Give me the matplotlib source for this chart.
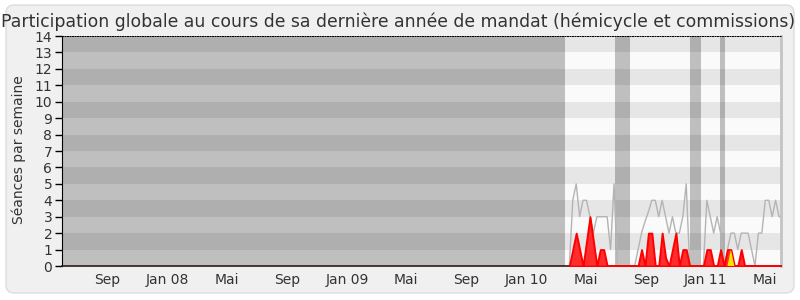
import numpy as np
import matplotlib
matplotlib.use("Agg")
import matplotlib.pyplot as plt
from matplotlib.patches import FancyBboxPatch

# --------------------------------------------------------------------------------
# Données hebdomadaires (une valeur par semaine depuis le début du mandat)
# --------------------------------------------------------------------------------
debut_semaines = np.datetime64("2010-03-29")

# présence médiane des députés
mediane = [0, 4, 5, 3, 4, 4, 3, 2, 3, 3, 3, 3, 1, 5, 0, 0, 0, 0, 0, 0,
           1, 2, 2.7, 3.3, 4, 4, 3, 4, 3, 2, 3, 2, 2, 3, 5, 0, 0, 0, 0, 0,
           4, 3, 2, 3, 2, 0, 1, 2, 2, 1, 2, 2, 2, 1, 0, 2, 2, 4, 4, 3,
           4, 3, 3]

# présences du député (hémicycle + commissions)
presences = [0, 1, 2, 1, 0, 1.5, 3, 1.5, 0, 1, 1, 0, 0, 0, 0, 0, 0, 0, 0, 0,
             0, 1, 0, 2, 2, 0, 0, 2, 0.5, 0, 1, 2, 0, 1, 1, 0, 0, 0, 0, 0,
             1, 1, 0, 0, 1, 0, 1, 1, 0, 0, 1, 0, 0, 0, 0, 0, 0, 0, 0, 0,
             0, 0, 0]

# interventions
interventions = [0] * 46 + [0, 1, 0] + [0] * 14

semaines = debut_semaines + np.arange(len(mediane)) * np.timedelta64(7, "D")

debut_mandat = "2010-03-20"
vacances = [("2010-06-30", "2010-07-30"),
            ("2010-11-29", "2010-12-22"),
            ("2011-01-30", "2011-02-09")]

debut_graphe = "2007-05-31"
fin_graphe = "2011-06-03"

mois_ticks = ["2007-09-01", "2008-01-01", "2008-05-01", "2008-09-01",
              "2009-01-01", "2009-05-01", "2009-09-01", "2010-01-01",
              "2010-05-01", "2010-09-01", "2011-01-01", "2011-05-01"]
mois_labels = ["Sep", "Jan 08", "Mai", "Sep", "Jan 09", "Mai", "Sep",
               "Jan 10", "Mai", "Sep", "Jan 11", "Mai"]

titre = ("Participation globale au cours de sa dernière année de mandat "
         "(hémicycle et commissions)")

# --------------------------------------------------------------------------------
# Figure
# --------------------------------------------------------------------------------
fig = plt.figure(figsize=(8, 3), dpi=100)
fig.patch.set_facecolor("white")
cadre = FancyBboxPatch((0.06, 0.07), 7.88, 2.88,
                       boxstyle="round,pad=0,rounding_size=0.08",
                       transform=fig.dpi_scale_trans,
                       facecolor="#f0f0f0", edgecolor="#dddddd", lw=1,
                       zorder=-1)
fig.add_artist(cadre)

ax = fig.add_axes([0.0775, 0.11333, 0.89875, 0.76667])
ax.set_facecolor("#fafafa")

# bandes horizontales alternées
for y in range(1, 14, 2):
    ax.axhspan(y, y + 1, color="#e6e6e6", lw=0, zorder=0)

# hors mandat et vacances parlementaires
ax.axvspan(np.datetime64(debut_graphe), np.datetime64(debut_mandat),
           color="black", alpha=0.235, lw=0, zorder=1)
for debut, fin in vacances:
    ax.axvspan(np.datetime64(debut), np.datetime64(fin),
               color="black", alpha=0.235, lw=0, zorder=1)

ax.plot(semaines, mediane, color="#b4b4b4", lw=1, zorder=2)
ax.fill_between(semaines, 0, presences, facecolor="#ff2e2e",
                edgecolor="#ff0000", lw=1.4, zorder=3)
ax.fill_between(semaines, 0, interventions, facecolor="#f4e400",
                edgecolor="none", lw=0, zorder=4)

ax.set_xlim(np.datetime64(debut_graphe), np.datetime64(fin_graphe))
ax.set_ylim(0, 14)

ax.set_yticks(range(15))
ax.set_xticks([np.datetime64(d) for d in mois_ticks])
ax.set_xticklabels(mois_labels)
ax.tick_params(axis="y", length=5, width=1, pad=2, labelsize=10,
               labelcolor="#333333")
ax.tick_params(axis="x", length=0, pad=5, labelsize=10,
               labelcolor="#333333")

ax.spines["top"].set_linestyle((0, (1, 1.5)))
ax.spines["top"].set_color("black")
ax.spines["top"].set_linewidth(0.72)
ax.spines["right"].set_color("#c4c4c4")
ax.spines["right"].set_linewidth(2)
ax.spines["left"].set_color("black")
ax.spines["bottom"].set_color("#2e1a14")
ax.spines["bottom"].set_linewidth(1.2)

ax.set_ylabel("Séances par semaine", fontsize=10, color="#333333")
ax.yaxis.set_label_coords(-0.05, 0.507)

fig.text(0.497, 0.911, titre, ha="center", va="baseline",
         fontsize=12.4, color="#333333")

fig.savefig("out.png", dpi=100)
